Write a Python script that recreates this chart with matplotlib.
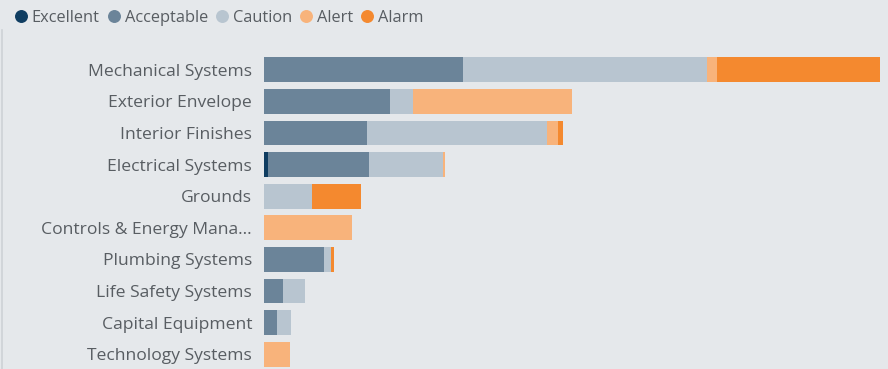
import matplotlib.pyplot as plt
from matplotlib.lines import Line2D
import numpy as np

plt.rcParams['font.family'] = ['Open Sans', 'DejaVu Sans']

systems = [
    "Mechanical Systems",
    "Exterior Envelope",
    "Interior Finishes",
    "Electrical Systems",
    "Grounds",
    "Controls & Energy Mana...",
    "Plumbing Systems",
    "Life Safety Systems",
    "Capital Equipment",
    "Technology Systems",
]

ratings = ["Excellent", "Acceptable", "Caution", "Alert", "Alarm"]

excellent = [0, 0, 0, 4, 0, 0, 0, 0, 0, 0]
acceptable = [199, 126, 103, 101, 0, 0, 60, 19, 13, 0]
caution = [244, 23, 180, 73.5, 48, 0, 7, 22, 14, 0]
alert = [10, 158.5, 11, 2.5, 0, 88, 0, 0, 0, 26]
alarm = [163, 0, 5, 0, 49, 0, 3, 0, 0, 0]

colors = ["#0f3d61", "#6b8499", "#b8c5d0", "#f8b37b", "#f4892f"]
bg = "#e5e8eb"
text_color = "#585d62"

fig = plt.figure(figsize=(8.88, 3.69), dpi=100, facecolor=bg)
W, H = 888, 369

# axes placed in pixel terms: bars start at x=264
ax_left, ax_right = 264, 884
ax_top, ax_bottom = 50, 369
ax = fig.add_axes([ax_left / W, 1 - ax_bottom / H,
                   (ax_right - ax_left) / W, (ax_bottom - ax_top) / H])
ax.set_facecolor(bg)

y = np.arange(len(systems))
left = np.zeros(len(systems))
for name, vals, c in zip(ratings, [excellent, acceptable, caution, alert, alarm], colors):
    vals = np.array(vals, dtype=float)
    ax.barh(y, vals, left=left, height=0.79, color=c, label=name, linewidth=0)
    left += vals

ax.set_xlim(0, ax_right - ax_left)
step = 31.6
first = 69.8
ax.set_ylim((ax_bottom - first) / step, (ax_top - first) / step)
ax.set_yticks(y)
ax.set_yticklabels(systems, fontsize=12.6, color=text_color)
ax.tick_params(axis="y", length=0, pad=8.6)
ax.set_xticks([])
for s in ax.spines.values():
    s.set_visible(False)

# thin frame line on the left edge
fig.add_artist(Line2D([1.5 / W, 1.5 / W], [0, 1 - 30 / H], color="#cdd2d6",
                      linewidth=1.2, transform=fig.transFigure))

# legend row: dot + label, laid out left to right
renderer = fig.canvas.get_renderer()
x = 15
ly = 1 - 15.5 / H
for name, c in zip(ratings, colors):
    fig.add_artist(Line2D([(x + 5.5) / W], [ly], marker="o", markersize=8.3,
                          markerfacecolor=c, markeredgecolor=c, linestyle="none",
                          transform=fig.transFigure))
    t = fig.text((x + 16.5) / W, ly, name, fontsize=11.8, color=text_color,
                 ha="left", va="center_baseline")
    bb = t.get_window_extent(renderer)
    x = bb.x1 + 8.5

fig.savefig("out.png", dpi=100, facecolor=bg)
